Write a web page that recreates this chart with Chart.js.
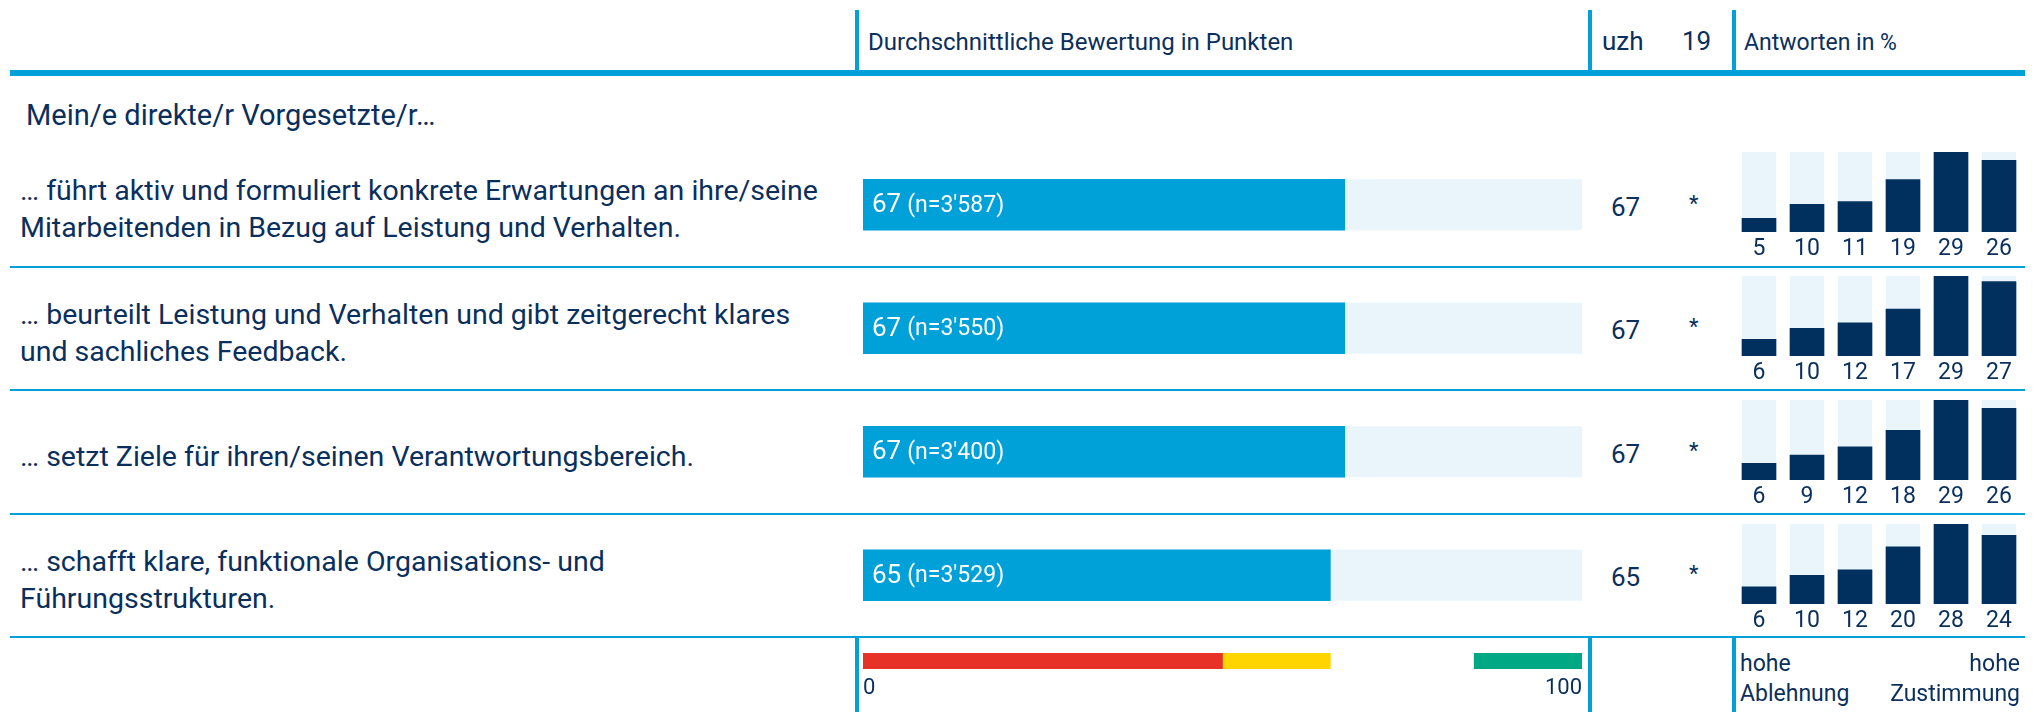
<!DOCTYPE html>
<html>
<head>
<meta charset="utf-8">
<script src="https://cdn.jsdelivr.net/npm/chart.js@4.4.1/dist/chart.umd.min.js"></script>
<style>
  body { margin: 0; width: 2044px; height: 712px; background: #fff; position: relative; overflow: hidden;
         font-family: Roboto, sans-serif; color: #0a2f5c; }
  .txt { position: absolute; white-space: nowrap; transform: translateY(-50%); }
  .line { position: absolute; background: #00a0d8; }
  canvas { position: absolute; }
</style>
</head>
<body>
<canvas id="mainChart" width="719" height="494" style="left:863px;top:143px;width:719px;height:494px"></canvas>
<canvas id="scaleChart" width="719" height="48" style="left:863px;top:653px;width:719px;height:48px"></canvas>
<script>
// data
const groupTitle = 'Mein/e direkte/r Vorgesetzte/r…';
const items = [
  ['… führt aktiv und formuliert konkrete Erwartungen an ihre/seine', 'Mitarbeitenden in Bezug auf Leistung und Verhalten.'],
  ['… beurteilt Leistung und Verhalten und gibt zeitgerecht klares', 'und sachliches Feedback.'],
  ['… setzt Ziele für ihren/seinen Verantwortungsbereich.'],
  ['… schafft klare, funktionale Organisations- und', 'Führungsstrukturen.']
];
const scores = [67, 67, 67, 65];
const counts = ["3'587", "3'550", "3'400", "3'529"];
const uzhScores = [67, 67, 67, 65];
const marks = ['*', '*', '*', '*'];
const answers = [
  [5, 10, 11, 19, 29, 26],
  [6, 10, 12, 17, 29, 27],
  [6, 9, 12, 18, 29, 26],
  [6, 10, 12, 20, 28, 24]
];
const answerCats = ['1', '2', '3', '4', '5', '6'];
const scaleBands = [[0, 50], [50, 65], [85, 100]];
const scaleColors = ['#e73327', '#ffd500', '#00a984'];
const scaleTicks = [0, 100];

const NAVY = '#0a2f5c';
const BLUE = '#00a0d8';
const TRACK = '#eaf5fb';
const DARK = '#02305e';

function addText(text, x, y, size, extra) {
  const d = document.createElement('div');
  d.className = 'txt';
  d.textContent = text;
  d.style.left = x + 'px';
  d.style.top = y + 'px';
  d.style.fontSize = size + 'px';
  Object.assign(d.style, extra || {});
  document.body.appendChild(d);
  return d;
}
function addLine(x, y, w, h) {
  const d = document.createElement('div');
  d.className = 'line';
  Object.assign(d.style, { left: x + 'px', top: y + 'px', width: w + 'px', height: h + 'px' });
  document.body.appendChild(d);
}

// frame
addLine(10, 70, 2015, 6);
[855, 1588, 1732].forEach(x => { addLine(x, 10, 4, 62); addLine(x, 636, 4, 76); });
[266, 389, 513, 636].forEach(y => addLine(10, y, 2015, 2));

addText('Durchschnittliche Bewertung in Punkten', 868, 42, 24);
addText('uzh', 1602, 41, 26);
addText('19', 1682, 41, 26);
addText('Antworten in %', 1744, 42, 23);
addText(groupTitle, 26, 115, 29);

addText('hohe', 1740, 663, 23);
addText('Ablehnung', 1740, 693, 23);
addText('hohe', 1400, 663, 23, { width: '620px', textAlign: 'right' });
addText('Zustimmung', 1400, 693, 23, { width: '620px', textAlign: 'right' });

// main bars
const trackPlugin = {
  id: 'track',
  beforeDatasetsDraw(chart) {
    const ctx = chart.ctx;
    const x = chart.scales.x;
    ctx.save();
    ctx.fillStyle = TRACK;
    chart.getDatasetMeta(0).data.forEach(el => {
      const h = el.height;
      ctx.fillRect(el.base, el.y - h / 2, x.getPixelForValue(100) - el.base, h);
    });
    ctx.restore();
  },
  afterDatasetsDraw(chart) {
    const ctx = chart.ctx;
    ctx.save();
    ctx.fillStyle = '#fff';
    ctx.textBaseline = 'middle';
    chart.getDatasetMeta(0).data.forEach((el, i) => {
      let x = el.base + 9;
      ctx.font = '26px Roboto';
      const s = String(scores[i]);
      ctx.fillText(s, x, el.y + 1);
      x += ctx.measureText(s).width + 6;
      ctx.font = '23px Roboto';
      ctx.fillText('(n=' + counts[i] + ')', x, el.y + 1);
    });
    ctx.restore();
  }
};

const mainChart = new Chart(document.getElementById('mainChart'), {
  type: 'bar',
  data: {
    labels: items.map(t => t.join(' ')),
    datasets: [{ data: scores, backgroundColor: BLUE, barThickness: 51 }]
  },
  options: {
    indexAxis: 'y',
    responsive: false,
    animation: false,
    layout: { padding: 0 },
    plugins: { legend: { display: false }, tooltip: { enabled: false } },
    scales: {
      x: { min: 0, max: 100, display: false },
      y: { display: false }
    }
  },
  plugins: [trackPlugin]
});

// row texts placed at the bar rows
mainChart.getDatasetMeta(0).data.forEach((el, i) => {
  const cy = 143 + el.y + 4;
  const lines = items[i];
  const lh = 37;
  lines.forEach((ln, j) => addText(ln, 20, cy + (j - (lines.length - 1) / 2) * lh, 28.5));
  addText(String(uzhScores[i]), 1611, cy - 2, 26);
  addText(marks[i], 1689, cy - 6, 22);
});

// small answer charts
const answerPlugin = {
  id: 'answerTrack',
  beforeDatasetsDraw(chart) {
    const ctx = chart.ctx, a = chart.chartArea;
    ctx.save();
    ctx.fillStyle = TRACK;
    chart.getDatasetMeta(0).data.forEach(el => {
      ctx.fillRect(el.x - el.width / 2, a.top, el.width, a.bottom - a.top);
    });
    ctx.restore();
  },
  afterDatasetsDraw(chart) {
    const ctx = chart.ctx;
    const vals = chart.data.datasets[0].data;
    ctx.save();
    ctx.fillStyle = NAVY;
    ctx.font = '23px Roboto';
    ctx.textAlign = 'center';
    ctx.textBaseline = 'middle';
    chart.getDatasetMeta(0).data.forEach((el, i) => {
      ctx.fillText(String(vals[i]), el.x, el.base + 17);
    });
    ctx.restore();
  }
};

const rowTops = [152, 276, 400, 524];
answers.forEach((row, i) => {
  const c = document.createElement('canvas');
  c.width = 288; c.height = 110;
  Object.assign(c.style, { left: '1735px', top: rowTops[i] + 'px', width: '288px', height: '110px' });
  document.body.appendChild(c);
  new Chart(c, {
    type: 'bar',
    data: { labels: answerCats, datasets: [{ data: row, backgroundColor: DARK, barThickness: 34 }] },
    options: {
      responsive: false,
      animation: false,
      layout: { padding: { bottom: 30 } },
      plugins: { legend: { display: false }, tooltip: { enabled: false } },
      scales: {
        x: { display: false },
        y: { display: false, min: 0, max: Math.max(...row) }
      }
    },
    plugins: [answerPlugin]
  });
});

// colour scale 0..100
new Chart(document.getElementById('scaleChart'), {
  type: 'bar',
  data: {
    labels: ['Skala'],
    datasets: scaleBands.map((b, i) => ({
      data: [b], backgroundColor: scaleColors[i], grouped: false,
      categoryPercentage: 1, barPercentage: 1
    }))
  },
  options: {
    indexAxis: 'y',
    responsive: false,
    animation: false,
    layout: { padding: 0 },
    plugins: { legend: { display: false }, tooltip: { enabled: false } },
    scales: {
      x: {
        min: 0, max: 100,
        afterBuildTicks: axis => { axis.ticks = scaleTicks.map(v => ({ value: v })); },
        afterFit: axis => { axis.paddingLeft = 0; axis.paddingRight = 0; axis.height = 32; },
        grid: { display: false, drawTicks: false },
        border: { display: false },
        ticks: { align: 'inner', padding: 6, color: NAVY, font: { family: 'Roboto', size: 22 }, maxRotation: 0 }
      },
      y: { display: false }
    }
  }
});
</script>
</body>
</html>
